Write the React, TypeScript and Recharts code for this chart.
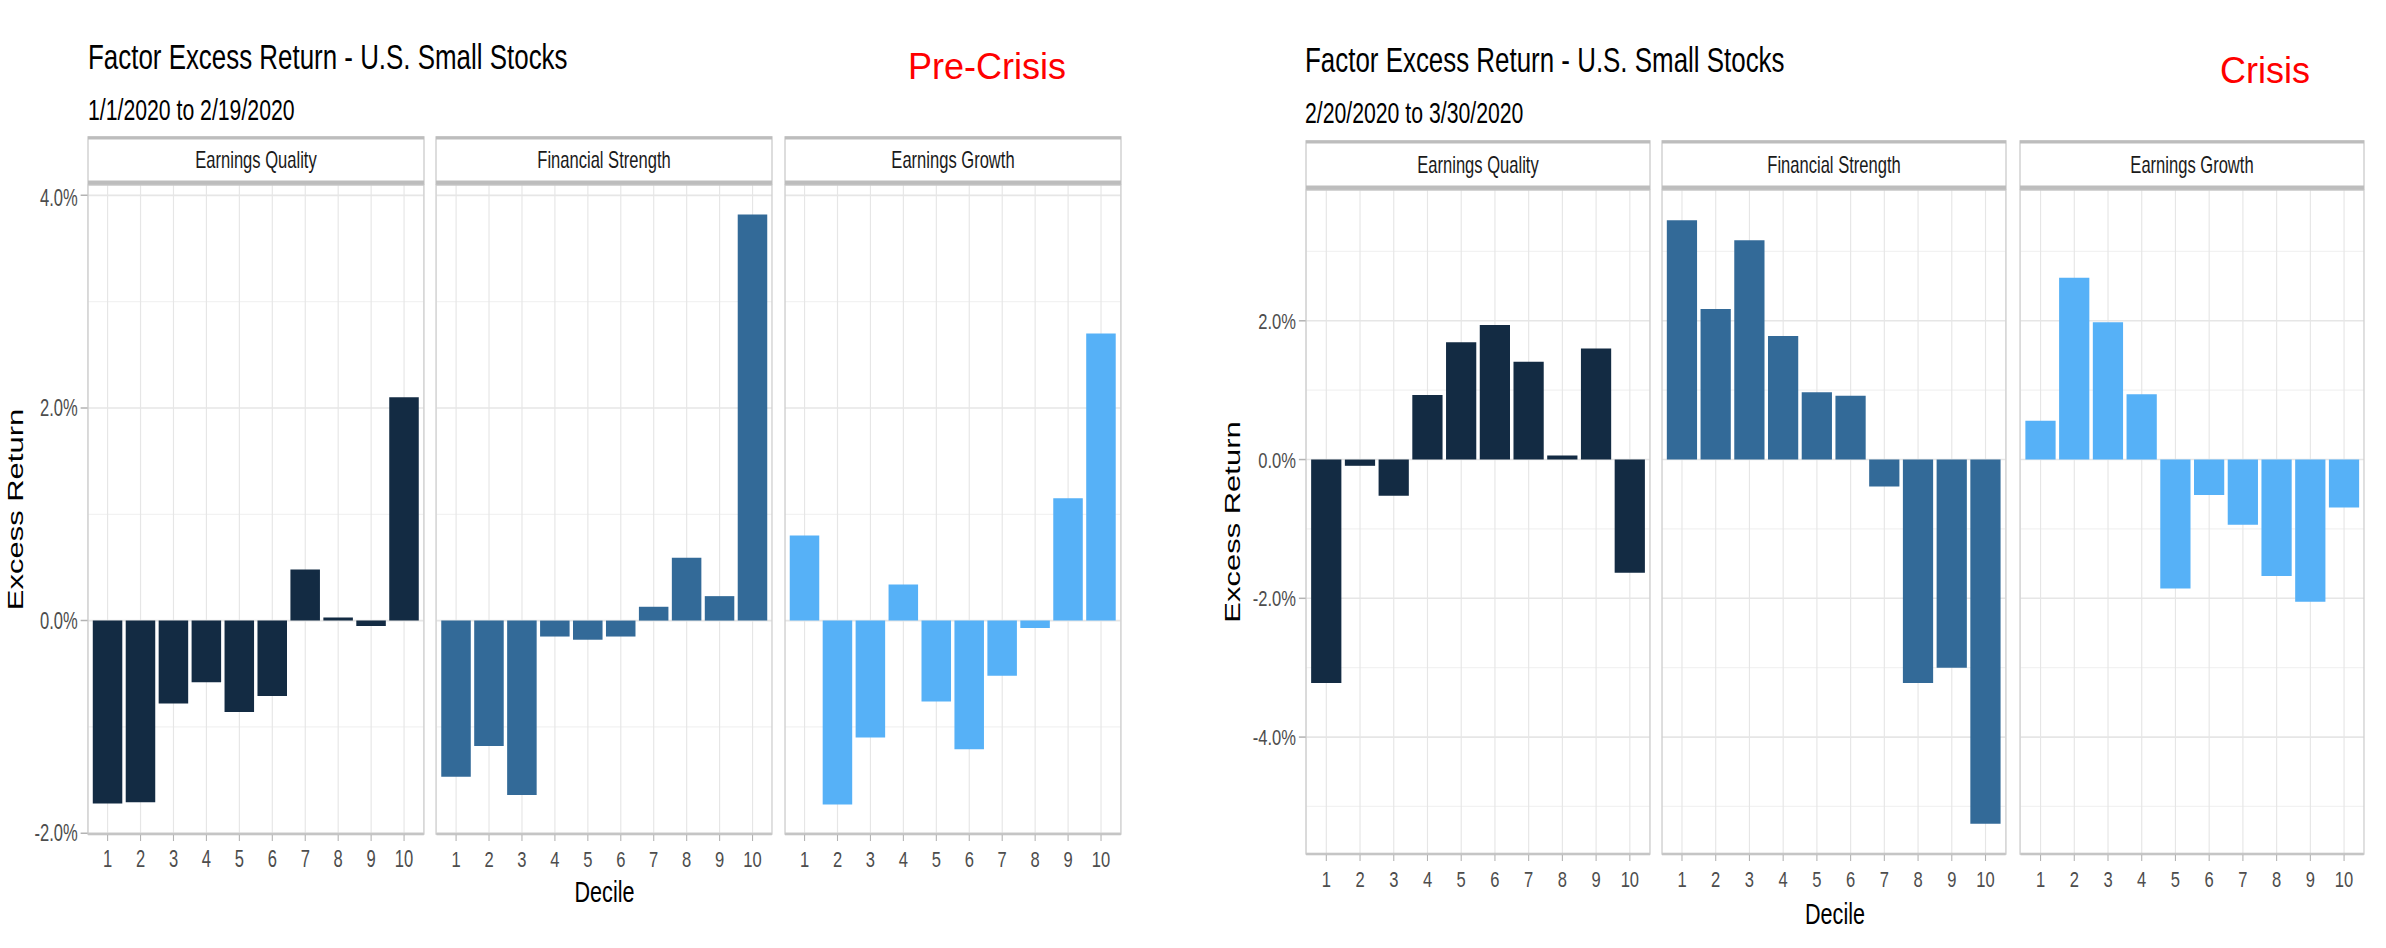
import React from 'react';
import { BarChart, Bar, XAxis, YAxis, CartesianGrid } from 'recharts';

// ---------- data ----------
const deciles = ['1', '2', '3', '4', '5', '6', '7', '8', '9', '10'];
const facetNames = ['Earnings Quality', 'Financial Strength', 'Earnings Growth'];
const facetColors = ['#132B43', '#336A98', '#56B1F7'];

const preEQ = [-1.72, -1.71, -0.78, -0.58, -0.86, -0.71, 0.48, 0.03, -0.05, 2.1];
const preFS = [-1.47, -1.18, -1.64, -0.15, -0.18, -0.15, 0.13, 0.59, 0.23, 3.82];
const preEG = [0.8, -1.73, -1.1, 0.34, -0.76, -1.21, -0.52, -0.07, 1.15, 2.7];

const crisisEQ = [-3.22, -0.09, -0.52, 0.93, 1.69, 1.94, 1.41, 0.06, 1.6, -1.63];
const crisisFS = [3.45, 2.17, 3.16, 1.78, 0.97, 0.92, -0.39, -3.22, -3.0, -5.25];
const crisisEG = [0.56, 2.62, 1.98, 0.94, -1.86, -0.51, -0.94, -1.68, -2.05, -0.69];

const preTicks = [-2, 0, 2, 4];
const preMinor = [-1, 1, 3];
const crisisTicks = [-4, -2, 0, 2];
const crisisMinor = [-5, -3, -1, 1, 3];

const chartTitle = 'Factor Excess Return - U.S. Small Stocks';
const preSubtitle = '1/1/2020 to 2/19/2020';
const crisisSubtitle = '2/20/2020 to 3/30/2020';
const preLabel = 'Pre-Crisis';
const crisisLabel = 'Crisis';
const yTitle = 'Excess Return';
const xTitle = 'Decile';

// ---------- layout ----------
const W = 2386;
const H = 948;
const K = 0.72; // horizontal squeeze of the reference image
const YW = 95;
const XH = 50;
const TICK_FS = 23;
const FONT = '"Liberation Sans", Arial, Helvetica, sans-serif';

const charts = [
  {
    title: chartTitle,
    subtitle: preSubtitle,
    series: [preEQ, preFS, preEG],
    ticks: preTicks,
    minor: preMinor,
    panelX: [88, 436, 785],
    panelW: 336,
    top: 185,
    bottom: 834,
    stripTop: 137,
    stripBottom: 184,
    titleX: 88,
    titleY: 69,
    subY: 120,
    ylabX: 15,
    decileY: 902,
  },
  {
    title: chartTitle,
    subtitle: crisisSubtitle,
    series: [crisisEQ, crisisFS, crisisEG],
    ticks: crisisTicks,
    minor: crisisMinor,
    panelX: [1306, 1662, 2020],
    panelW: 344,
    top: 190,
    bottom: 854,
    stripTop: 141,
    stripBottom: 189,
    titleX: 1305,
    titleY: 72,
    subY: 123,
    ylabX: 1232,
    decileY: 924,
  },
];

function expandDomain(all: number[]): [number, number] {
  const lo = Math.min(...all);
  const hi = Math.max(...all);
  const e = (hi - lo) * 0.05;
  return [lo - e, hi + e];
}

const fmt = (v: number) => `${v.toFixed(1)}%`;

function Facet(props: {
  values: number[];
  color: string;
  ticks: number[];
  minor: number[];
  domain: [number, number];
  showY: boolean;
  x: number;
  top: number;
  w: number;
  h: number;
}) {
  const { values, color, ticks, minor, domain, showY, x, top, w, h } = props;
  const data = deciles.map((d, i) => ({ decile: d, value: values[i] }));
  const yw = showY ? YW : 0;
  const wv = w / K;
  const pad = wv / 102;
  const cw = wv + yw;
  const ch = h + XH;
  return (
    <div style={{ position: 'absolute', left: x / K - yw, top, width: cw, height: ch }}>
      <BarChart
        width={cw}
        height={ch}
        data={data}
        margin={{ top: 0, right: 0, bottom: 0, left: 0 }}
        barCategoryGap="5%"
      >
        <CartesianGrid vertical={false} horizontalValues={minor} stroke="#F2F2F2" strokeWidth={1.3} />
        <CartesianGrid horizontalValues={ticks} stroke="#E6E6E6" strokeWidth={1.6} />
        <XAxis
          dataKey="decile"
          type="category"
          height={XH}
          interval={0}
          padding={{ left: pad, right: pad }}
          tick={{ fill: '#4D4D4D', fontSize: TICK_FS }}
          tickLine={{ stroke: '#B3B3B3', strokeWidth: 1.5 }}
          tickSize={7}
          tickMargin={10}
          axisLine={{ stroke: '#BDBDBD', strokeWidth: 2.5 }}
        />
        <YAxis
          type="number"
          hide={!showY}
          domain={domain}
          allowDataOverflow
          ticks={ticks}
          width={YW}
          tickFormatter={fmt}
          axisLine={false}
          tick={{ fill: '#4D4D4D', fontSize: TICK_FS }}
          tickLine={{ stroke: '#B3B3B3', strokeWidth: 1.5 }}
          tickSize={10}
          tickMargin={4}
        />
        <Bar dataKey="value" fill={color} isAnimationActive={false} />
      </BarChart>
    </div>
  );
}

export default function App() {
  return (
    <div
      style={{
        position: 'absolute',
        left: 0,
        top: 0,
        width: W,
        height: H,
        overflow: 'hidden',
        background: '#ffffff',
      }}
    >
      <div
        style={{
          position: 'absolute',
          left: 0,
          top: 0,
          width: W / K,
          height: H,
          transform: `scaleX(${K})`,
          transformOrigin: '0 0',
          fontFamily: FONT,
        }}
      >
        {charts.map((c, ci) => {
          const domain = expandDomain([...c.series[0], ...c.series[1], ...c.series[2]]);
          return c.series.map((vals, fi) => (
            <Facet
              key={`${ci}-${fi}`}
              values={vals}
              color={facetColors[fi]}
              ticks={c.ticks}
              minor={c.minor}
              domain={domain}
              showY={fi === 0}
              x={c.panelX[fi]}
              top={c.top}
              w={c.panelW}
              h={c.bottom - c.top}
            />
          ));
        })}
        <svg
          width={W / K}
          height={H}
          style={{ position: 'absolute', left: 0, top: 0, pointerEvents: 'none' }}
          fontFamily={FONT}
        >
          {charts.map((c, ci) => {
            const first = c.panelX[0];
            const last = c.panelX[2] + c.panelW;
            const midY = (c.top + c.bottom) / 2;
            return (
              <g key={ci}>
                <text x={c.titleX / K} y={c.titleY} fontSize={36} fill="#000">
                  {c.title}
                </text>
                <text x={c.titleX / K} y={c.subY} fontSize={29.5} fill="#000">
                  {c.subtitle}
                </text>
                {c.panelX.map((px, fi) => {
                  const sx = px / K;
                  const sw = c.panelW / K;
                  const sh = c.stripBottom - c.stripTop;
                  return (
                    <g key={fi}>
                      <rect
                        x={sx}
                        y={c.top}
                        width={sw}
                        height={c.bottom - c.top}
                        fill="none"
                        stroke="#C8C8C8"
                        strokeWidth={1.5}
                      />
                      <rect
                        x={sx}
                        y={c.stripTop}
                        width={sw}
                        height={sh}
                        fill="#ffffff"
                        stroke="#C4C4C4"
                        strokeWidth={1.6}
                      />
                      <line x1={sx} x2={sx + sw} y1={c.stripTop + 1} y2={c.stripTop + 1} stroke="#BDBDBD" strokeWidth={3} />
                      <line
                        x1={sx}
                        x2={sx + sw}
                        y1={c.stripBottom - 1.5}
                        y2={c.stripBottom - 1.5}
                        stroke="#BDBDBD"
                        strokeWidth={4}
                      />
                      <text
                        x={sx + sw / 2}
                        y={c.stripTop + sh / 2 + 8}
                        fontSize={23}
                        fill="#1A1A1A"
                        textAnchor="middle"
                      >
                        {facetNames[fi]}
                      </text>
                    </g>
                  );
                })}
                <text
                  transform={`translate(${c.ylabX / K},${midY}) rotate(-90)`}
                  dy="0.358em"
                  textAnchor="middle"
                  fontSize={31}
                  fill="#000"
                >
                  {yTitle}
                </text>
                <text x={(first + last) / 2 / K} y={c.decileY} textAnchor="middle" fontSize={30} fill="#000">
                  {xTitle}
                </text>
              </g>
            );
          })}
        </svg>
      </div>
      <svg width={W} height={H} style={{ position: 'absolute', left: 0, top: 0, pointerEvents: 'none' }} fontFamily={FONT}>
        <text x={908} y={79} fontSize={36} fill="#FF0000">
          {preLabel}
        </text>
        <text x={2220} y={83} fontSize={36} fill="#FF0000">
          {crisisLabel}
        </text>
      </svg>
    </div>
  );
}
